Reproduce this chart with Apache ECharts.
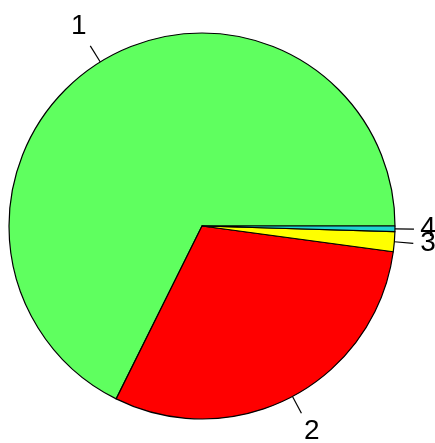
<!DOCTYPE html>
<html>
<head>
<meta charset="utf-8">
<script src="https://cdn.jsdelivr.net/npm/echarts@6/dist/echarts.min.js"></script>
<style>html,body{margin:0;padding:0;background:#fff;}#c{width:435px;height:443px;}</style>
</head>
<body>
<div id="c"></div>
<script>
var categories = ['1', '2', '3', '4'];
var values = [67.66, 30.20, 1.66, 0.47];
var colors = ['#5FFF5F', '#FF0000', '#FFFF00', '#1FD3D3'];

var chart = echarts.init(document.getElementById('c'), null, {renderer: 'canvas'});
var data = categories.map(function (c, i) {
  return {name: c, value: values[i], itemStyle: {color: colors[i]}};
});
chart.setOption({
  animation: false,
  backgroundColor: '#ffffff',
  series: [{
    type: 'pie',
    center: [202, 226],
    radius: [0, 193],
    startAngle: 0,
    clockwise: false,
    avoidLabelOverlap: false,
    data: data,
    itemStyle: {borderColor: '#000', borderWidth: 1.2},
    emphasis: {disabled: true},
    label: {
      show: true,
      position: 'outside',
      formatter: '{b}',
      color: '#000',
      fontFamily: 'Liberation Sans',
      fontSize: 28,
      lineHeight: 22,
      distanceToLabelLine: 0
    },
    labelLine: {
      show: true,
      length: 19,
      length2: 0,
      smooth: false,
      lineStyle: {color: '#000', width: 1.2}
    },
    labelLayout: function (p) {
      var pts = p.labelLinePoints;
      var s = pts[0], e = pts[pts.length - 1];
      var dx = e[0] - s[0], dy = e[1] - s[1];
      var L = Math.sqrt(dx * dx + dy * dy) || 1;
      dx /= L; dy /= L;
      var w = p.labelRect.width;
      var ext = Math.abs(dx) * w / 2 + Math.abs(dy) * 14 + 6;
      return {
        x: e[0] + dx * ext,
        y: e[1] + dy * ext - 1,
        align: 'center',
        verticalAlign: 'middle',
        labelLinePoints: pts
      };
    }
  }]
});
</script>
</body>
</html>
